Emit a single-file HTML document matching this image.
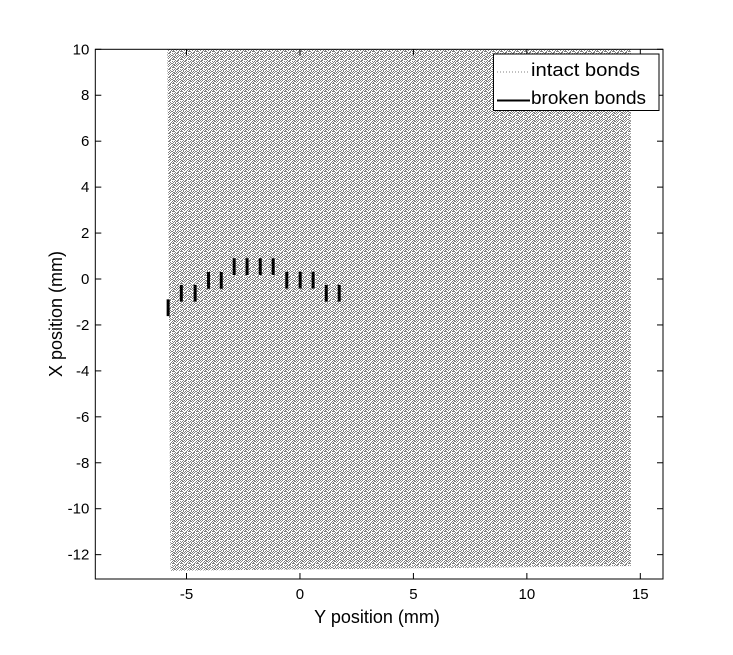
<!DOCTYPE html>
<html><head><meta charset="utf-8"><style>
body{margin:0;background:#fff;}
svg text{font-family:"Liberation Sans",sans-serif;}
</style></head><body>
<svg id="chart" width="733" height="650" xmlns="http://www.w3.org/2000/svg">
<defs>
<pattern id="tex" width="8" height="8" patternUnits="userSpaceOnUse" shape-rendering="crispEdges">
<rect width="8" height="8" fill="#fff"/>
<g id="texg" fill="#808080"></g>
</pattern>
</defs>
<g id="plot"></g>
</svg>
<script>
const xTicks=[-5,0,5,10,15];
const yTicks=[10,8,6,4,2,0,-2,-4,-6,-8,-10,-12];
const bondX=[-5.81,-5.23,-4.62,-4.03,-3.47,-2.90,-2.33,-1.75,-1.18,-0.58,0.01,0.58,1.16,1.73];
const bondY=[-1.25,-0.62,-0.62,-0.06,-0.06,0.54,0.54,0.54,0.54,-0.05,-0.05,-0.05,-0.62,-0.62];
const bondLen=0.73;
const meshX=[-5.84,14.58];
const meshYTop=10;
const meshYBottom=[-12.7,-12.5];
const L=95.3,R=663,T=49.3,B=579,xmin=-9.02,xmax=16,ymin=-13.06,ymax=10;
const sx=v=>L+(v-xmin)/(xmax-xmin)*(R-L);
const sy=v=>B-(v-ymin)/(ymax-ymin)*(B-T);
const NS='http://www.w3.org/2000/svg';
const g=document.getElementById('plot');
function mk(t,a,p){const e=document.createElementNS(NS,t);for(const k in a)e.setAttribute(k,a[k]);(p||g).appendChild(e);return e;}
const mask=["10100110","01001011","10010100","00101110","01100001","11001010","00100101","01011001"];
const tg=document.getElementById('texg');
mask.forEach((row,y)=>{[...row].forEach((c,x)=>{if(c==='1')mk('rect',{x:x,y:y,width:1,height:1},tg);});});
let bg=mk('rect',{x:L,y:T,width:R-L,height:B-T,fill:'#fff'});

const pts=`${sx(meshX[0])},${sy(meshYTop)} ${sx(meshX[1])},${sy(meshYTop)} ${sx(meshX[1])},${sy(meshYBottom[1])} ${sx(meshX[0])+3},${sy(meshYBottom[0])}`;
let m=mk('polygon',{points:pts,fill:'url(#tex)'});

bondX.forEach((x,i)=>{
 let l=mk('line',{x1:sx(x),x2:sx(x),y1:sy(bondY[i]+bondLen/2),y2:sy(bondY[i]-bondLen/2),stroke:'#000','stroke-width':3});
 
});
let fr=mk('rect',{x:L,y:T,width:R-L,height:B-T,fill:'none',stroke:'#000','stroke-width':1});

xTicks.forEach(v=>{
 const x=sx(v);
 mk('line',{x1:x,x2:x,y1:B,y2:B-6,stroke:'#000'});mk('line',{x1:x,x2:x,y1:T,y2:T+6,stroke:'#000'});
 let t=mk('text',{x:x,y:B+20,'text-anchor':'middle','font-size':15});t.textContent=v;
 
});
yTicks.forEach(v=>{
 const y=sy(v);
 mk('line',{x1:L,x2:L+6,y1:y,y2:y,stroke:'#000'});mk('line',{x1:R,x2:R-6,y1:y,y2:y,stroke:'#000'});
 let t=mk('text',{x:L-6,y:y+5,'text-anchor':'end','font-size':15});t.textContent=v;
 
});
let xt=mk('text',{x:377,y:623,'text-anchor':'middle','font-size':18});xt.textContent='Y position (mm)';

let yt=mk('text',{x:0,y:0,'text-anchor':'middle','font-size':18,transform:`translate(62,314) rotate(-90)`});yt.textContent='X position (mm)';

let lg=mk('g',{});

mk('rect',{x:493.5,y:54,width:165.5,height:56.5,fill:'#fff',stroke:'#000'},lg);
mk('line',{x1:497,x2:530,y1:72,y2:72,stroke:'#808080','stroke-dasharray':'1,2'},lg);
mk('line',{x1:497,x2:530,y1:100.5,y2:100.5,stroke:'#000','stroke-width':2},lg);
let t1=mk('text',{x:531,y:76,'font-size':18,textLength:109,lengthAdjust:'spacingAndGlyphs'},lg);t1.textContent='intact bonds';

let t2=mk('text',{x:531,y:104,'font-size':18,textLength:115,lengthAdjust:'spacingAndGlyphs'},lg);t2.textContent='broken bonds';

</script>
</body></html>
